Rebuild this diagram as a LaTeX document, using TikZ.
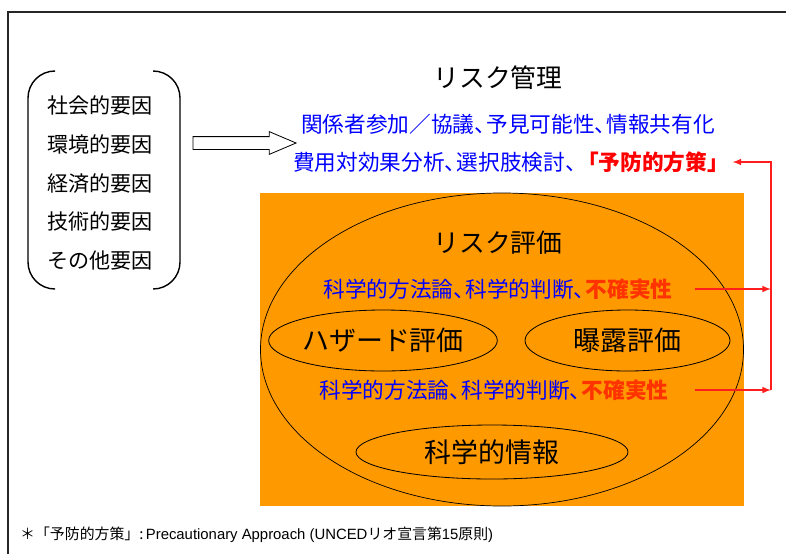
\documentclass[tikz,border=0pt]{standalone}
\usepackage{fontspec}
\setmainfont{Noto Sans CJK JP}
\newfontfamily\latinfont{Liberation Sans}
\usepackage{tikz}
\usetikzlibrary{shapes.geometric, shapes.arrows, arrows, calc, positioning}
\definecolor{riskblue}{RGB}{0, 0, 255}
\definecolor{riskred}{RGB}{255, 0, 0}
\definecolor{uncred}{RGB}{255, 51, 0}
\definecolor{riskorange}{RGB}{255, 153, 0}
\definecolor{linkred}{RGB}{255, 30, 30}
\newcommand{\jpcomma}{、\kern-.45em}

\begin{document}
\begin{tikzpicture}[x=0.03cm, y=-0.03cm, every node/.style={inner sep=0pt},
    title/.style={font=\fontsize{22}{25}\selectfont},
    bluetext/.style={text=riskblue, font=\fontsize{18.5}{21}\selectfont},
    oval/.style={ellipse, draw, line width=0.7pt, font=\fontsize{23}{26}\selectfont},
    redlink/.style={draw=linkred, line width=1.5pt, -latex}]
    \useasboundingbox (0,0) rectangle (786,554);
    \draw[line width=1pt, black!85] (8,554) -- (8,12) -- (786,12);

    % factors
    \node (factors) [align=center, font=\fontsize{18}{33}\selectfont] at (100,183) {社会的要因\\環境的要因\\経済的要因\\技術的要因\\その他要因};
    \draw[line width=1.2pt, rounded corners=23pt] (55,71) -- (28,71) -- (28,289) -- (55,289);
    \draw[line width=1.2pt, rounded corners=23pt] (153,71) -- (180,71) -- (180,289) -- (153,289);
    \node (push) [single arrow, draw, fill=white, line width=0.7pt, inner xsep=0pt, inner ysep=0.18cm, minimum height=3.09cm, single arrow head extend=0.15cm, single arrow tip angle=46] at (237,143) {};

    % management
    \node (mgmt) [title] at (498,78) {リスク管理};
    \node (share) [bluetext] at (508,124) {関係者参加／協議\jpcomma 予見可能性\jpcomma 情報共有化};
    \node (cost) [bluetext] at (511,162) {費用対効果分析\jpcomma 選択肢検討\jpcomma\textcolor{riskred}{\bfseries 「予防的方策」}};

    % assessment
    \node (field) [fill=riskorange, minimum width=14.52cm, minimum height=9.39cm] at (502,349.5) {};
    \node (assess) [ellipse, draw, line width=0.6pt, minimum width=14.49cm, minimum height=9.39cm] at (502,349.5) {};
    \node (assessT) [title] at (498,243) {リスク評価};
    \node (sci1) [bluetext] at (498,289) {科学的方法論\jpcomma 科学的判断\jpcomma\textcolor{uncred}{\bfseries 不確実性}};
    \node (hazard) [oval, minimum width=6.54cm, minimum height=1.83cm] at (383,340.5) {ハザード評価};
    \node (expo) [oval, minimum width=6.15cm, minimum height=1.83cm] at (627.5,340.5) {曝露評価};
    \node (sci2) [bluetext] at (494,390) {科学的方法論\jpcomma 科学的判断\jpcomma\textcolor{uncred}{\bfseries 不確実性}};
    \node (info) [oval, minimum width=8.16cm, minimum height=1.62cm] at (492,452) {科学的情報};

    % links
    \coordinate (outA) at (695,289);
    \coordinate (outB) at (695,390);
    \coordinate (busA) at (771,289);
    \coordinate (busB) at (771,390);
    \draw[redlink] (outA) -- (busA);
    \draw[redlink] (outB) -- (busB);
    \draw[redlink] (busB) |- ([xshift=3pt]cost.east);

    \node (note) [anchor=west, font=\fontsize{12.7}{15}\selectfont] at (20,535) {＊「予防的方策」:{\latinfont\,Precautionary Approach (UNCED}リオ宣言第{\latinfont 15}原則{\latinfont )}};
\end{tikzpicture}
\end{document}
